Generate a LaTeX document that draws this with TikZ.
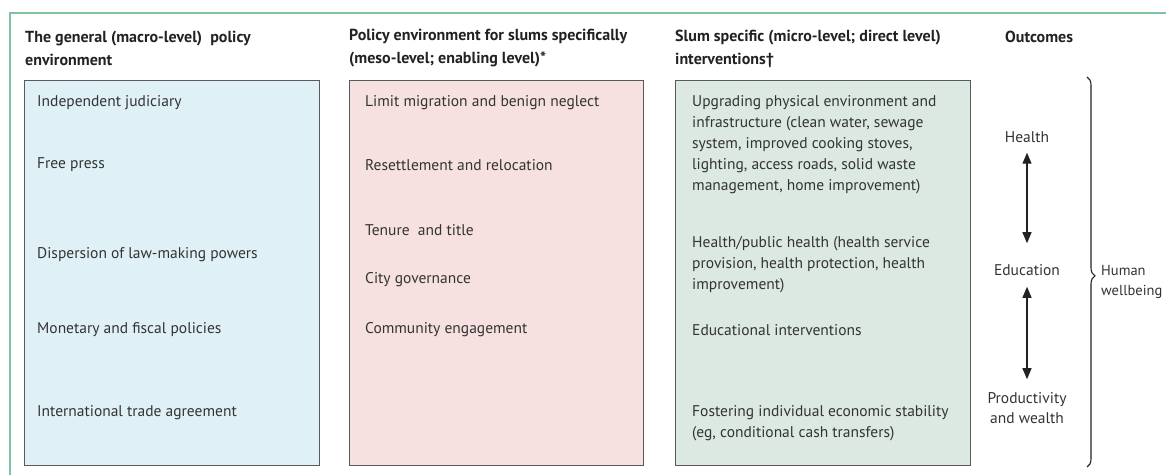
\documentclass[tikz,border=0pt]{standalone}
\usepackage{fontspec}
\setmainfont{PT Sans}
\usetikzlibrary{arrows.meta,decorations.pathreplacing}
\definecolor{txt}{HTML}{333333}
\definecolor{hdr}{HTML}{222222}
\definecolor{edge}{HTML}{5A5A5A}
\definecolor{blueF}{HTML}{DFF0F7}
\definecolor{pinkF}{HTML}{F6E1E0}
\definecolor{greenF}{HTML}{DBE9E2}
\definecolor{frameG}{HTML}{7EC4A3}
\tikzset{
  panel/.style={draw=edge, line width=1.4pt, anchor=north west, inner sep=0pt},
  item/.style={anchor=west, inner sep=0pt, text=txt, align=left, font=\fontsize{15.5}{21}\selectfont},
  head/.style={anchor=west, inner sep=0pt, text=hdr, align=left, font=\bfseries\fontsize{16}{23}\selectfont},
  outc/.style={anchor=center, inner sep=0pt, text=txt, align=center, font=\fontsize{15.5}{20}\selectfont},
  dbl/.style={line width=1.2pt, draw=hdr, {Triangle[width=9pt,length=11pt]}-{Triangle[width=9pt,length=11pt]}},
}
\begin{document}
\begin{tikzpicture}[x=1pt,y=-1pt]
\useasboundingbox (0,0) rectangle (1166,475);
% frame
\draw[frameG, line width=1.6pt] (1166,13) -- (10,13) -- (10,475);
% headers
\node[head] (h1) at (25,48.5) {The general (macro-level)\ \ policy\\environment};
\node[head] (h2) at (349,48.5) {Policy environment for slums specifically\\(meso-level; enabling level)*};
\node[head] (h3) at (675,48.5) {Slum specific (micro-level; direct level)\\interventions†};
\node[head] (h4) at (1005,37) {Outcomes};
% panels
\node[panel, fill=blueF, minimum width=295pt, minimum height=385pt] (blue) at (24,80) {};
\node[panel, fill=pinkF, minimum width=294pt, minimum height=385pt] (pink) at (349,80) {};
\node[panel, fill=greenF, minimum width=295pt, minimum height=385pt] (green) at (675,80) {};
% blue items
\node[item] (b1) at (37,103) {Independent judiciary};
\node[item] (b2) at (37,165) {Free press};
\node[item] (b3) at (37,255) {Dispersion of law-making powers};
\node[item] (b4) at (37,330) {Monetary and fiscal policies};
\node[item] (b5) at (37,413) {International trade agreement};
% pink items
\node[item] (p1) at (365,103) {Limit migration and benign neglect};
\node[item] (p2) at (365,165) {Resettlement and relocation};
\node[item] (p3) at (365,230) {Tenure\ \ and title};
\node[item] (p4) at (365,280) {City governance};
\node[item] (p5) at (365,330) {Community engagement};
% green items
\node[item] (g1) at (692,145) {Upgrading physical environment and\\infrastructure (clean water, sewage\\system, improved cooking stoves,\\lighting, access roads, solid waste\\management, home improvement)};
\node[item] (g2) at (692,265) {Health/public health (health service\\provision, health protection, health\\improvement)};
\node[item] (g3) at (692,330) {Educational interventions};
\node[item] (g4) at (692,423) {Fostering individual economic stability\\(eg, conditional cash transfers)};
% outcomes
\node[outc] (o1) at (1027,137) {Health};
\node[outc] (o2) at (1027,270) {Education};
\node[outc] (o3) at (1027,408) {Productivity\\and wealth};
\draw[dbl, shorten <=10pt, shorten >=21pt] (o1.south) -- (o2.north);
\draw[dbl, shorten <=11pt, shorten >=13pt] (o2.south) -- (o3.north);
% brace
\coordinate (bt) at (1087,77);
\coordinate (bb) at (1087,467);
\draw[hdr, line width=1.1pt, decorate, decoration={brace, amplitude=8pt, aspect=0.51}] (bt) -- (bb);
\node[item, font=\fontsize{14.5}{20.5}\selectfont] (hw) at (1101,282) {Human\\wellbeing};
\end{tikzpicture}
\end{document}
